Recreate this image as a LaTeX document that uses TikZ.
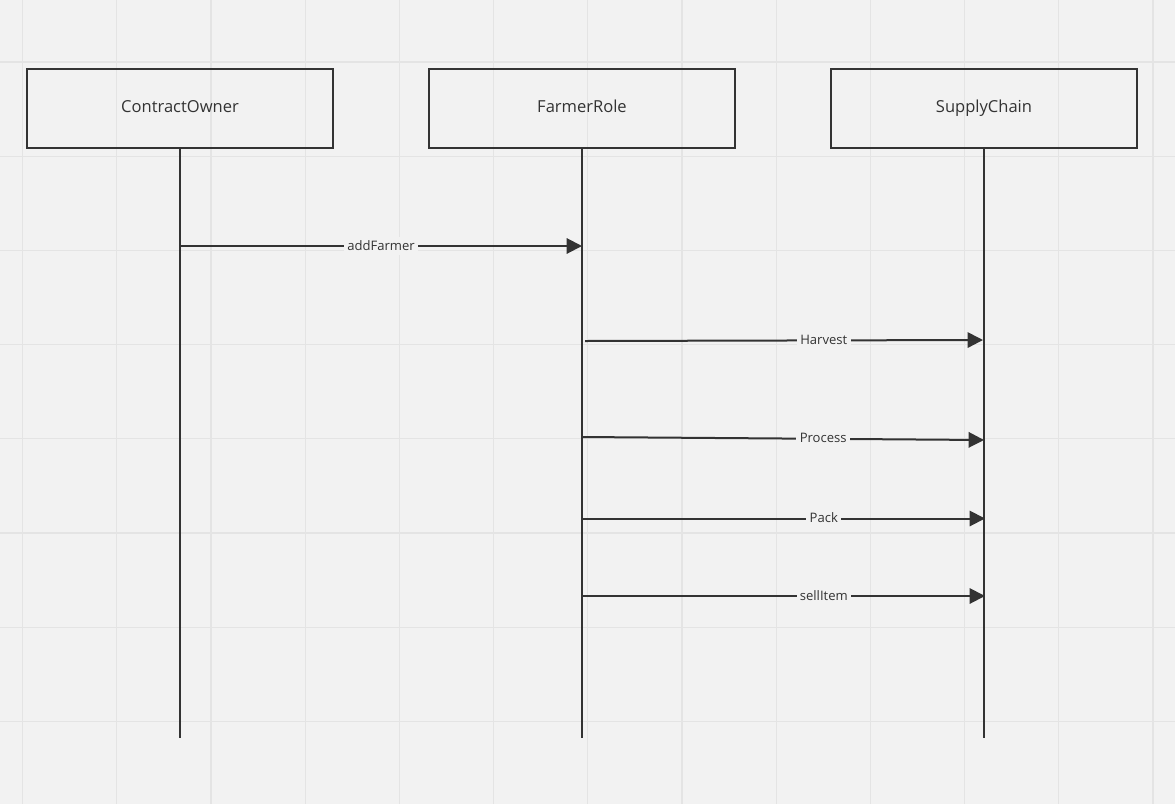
\documentclass[tikz,border=0pt]{standalone}
\usepackage{fontspec}
\setmainfont{Open Sans}
\usetikzlibrary{arrows.meta}
\definecolor{canvas}{HTML}{F2F2F2}
\definecolor{gridline}{HTML}{E4E4E4}
\definecolor{ink}{HTML}{333333}
\begin{document}
\begin{tikzpicture}[
  x=0.75pt,y=-0.75pt,line width=1.5pt,
  every node/.style={inner sep=2pt},
  participant/.style={draw=ink,line width=1.5pt,minimum width=229.5pt,
    minimum height=59.25pt,text=ink,text height=1.6ex,text depth=0.45ex,
    font=\fontsize{12.4}{14}\selectfont},
  lifeline/.style={draw=ink,line width=1.5pt},
  message/.style={draw=ink,line width=1.5pt,-{Triangle[length=11.5pt,width=11.5pt]}},
  message label/.style={fill=canvas,text=ink,inner xsep=2.5pt,inner ysep=1pt,
    text height=1.6ex,text depth=0.45ex,font=\fontsize{9.8}{11}\selectfont}
]
  \fill[canvas] (0,0) rectangle (1175,804);
  \useasboundingbox (0,0) rectangle (1175,804);
  \foreach \gx in {0,...,12}
    \draw[gridline,line width=0.9pt] ({22.5+94.2*\gx},0) -- ++(0,804);
  \foreach \gy in {0,...,7}
    \draw[gridline,line width=0.9pt] (0,{62+94.2*\gy}) -- ++(1175,0);

  \node[participant] (owner) at (180,108.5) {ContractOwner};
  \node[participant] (farmer) at (582,108.5) {FarmerRole};
  \node[participant] (chain) at (984,108.5) {SupplyChain};

  % lifelines stop well above the canvas edge
  \coordinate (ownerEnd) at (180,738);
  \coordinate (farmerEnd) at (582,738);
  \coordinate (chainEnd) at (984,738);
  \draw[lifeline] (owner.south) -- (ownerEnd);
  \draw[lifeline] (farmer.south) -- (farmerEnd);
  \draw[lifeline] (chain.south) -- (chainEnd);

  \coordinate (addFrom) at (180,246);
  \coordinate (addTo) at (582,246);
  \coordinate (harvestFrom) at (585,341);
  \coordinate (harvestTo) at (983,340);
  \coordinate (processFrom) at (582,437);
  \coordinate (processTo) at (984,440);
  \coordinate (packFrom) at (582,518.5);
  \coordinate (packTo) at (985,518.5);
  \coordinate (sellFrom) at (582,596);
  \coordinate (sellTo) at (985,596);

  \draw[message] (addFrom) -- node[message label] (addLabel) {addFarmer} (addTo);
  \draw[message] (harvestFrom) -- node[message label,pos=0.6] (harvestLabel) {Harvest} (harvestTo);
  \draw[message] (processFrom) -- node[message label,pos=0.6] (processLabel) {Process} (processTo);
  \draw[message] (packFrom) -- node[message label,pos=0.6] (packLabel) {Pack} (packTo);
  \draw[message] (sellFrom) -- node[message label,pos=0.6] (sellLabel) {sellItem} (sellTo);
\end{tikzpicture}
\end{document}
